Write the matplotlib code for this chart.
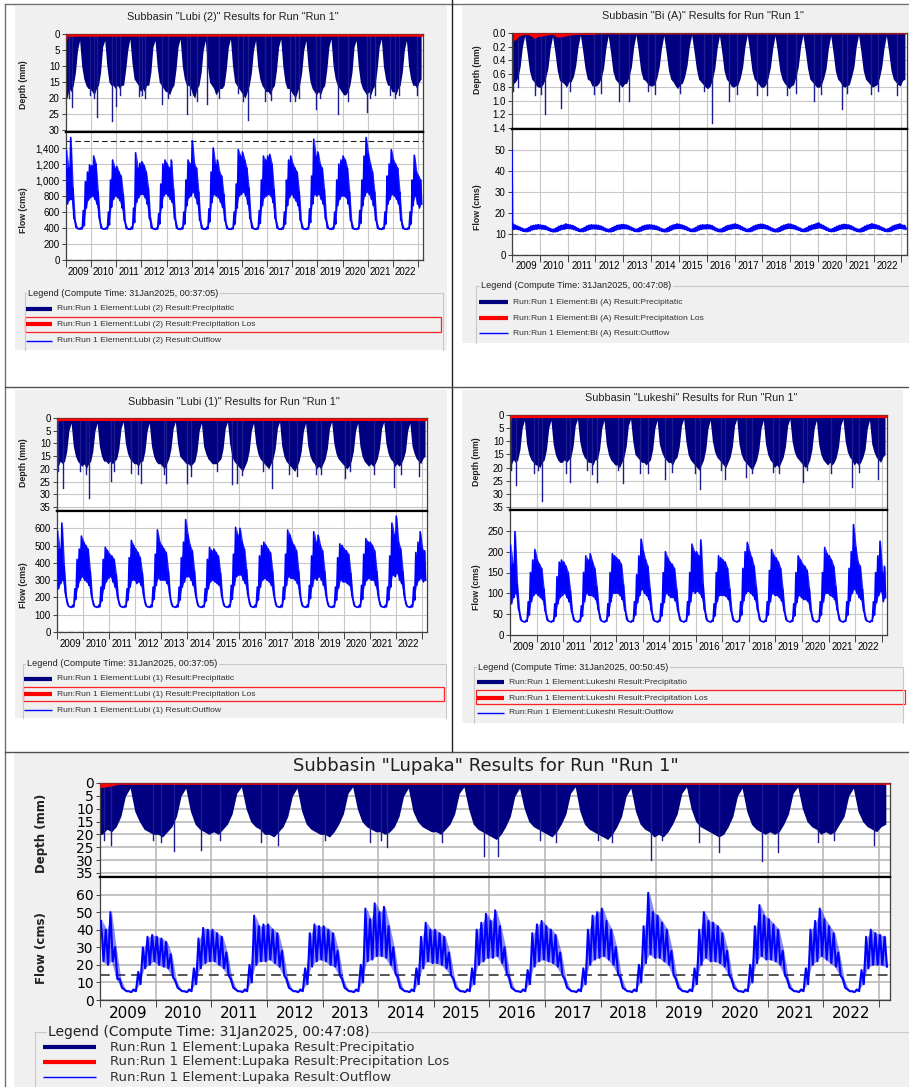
import numpy as np
import matplotlib.pyplot as plt
from matplotlib.lines import Line2D
from matplotlib.patches import Rectangle

plt.rcParams["font.family"] = ["Liberation Sans", "DejaVu Sans"]

START, END = 2009, 2023.2
YEARS = list(range(2009, 2023))

# ---------------- data (monthly values, Jan..Dec, one row per year; last row = early 2023) ----------------
# Lubi (2)
L2_FLOW_HI = [
    [1360, 1150, 1530, 900, 500, 400, 395, 405, 620, 980, 1100, 1190],
    [1180, 1300, 1200, 850, 480, 395, 390, 405, 600, 1000, 1250, 1150],
    [1170, 1100, 1050, 820, 470, 395, 390, 410, 650, 1340, 1150, 1210],
    [1230, 1180, 1100, 900, 520, 400, 390, 400, 580, 950, 1200, 1250],
    [1200, 1150, 1250, 880, 500, 395, 390, 405, 600, 1000, 1250, 1200],
    [1490, 1200, 1150, 850, 480, 395, 390, 410, 640, 1100, 1400, 1200],
    [1250, 1100, 1050, 820, 470, 395, 390, 400, 600, 950, 1380, 1300],
    [1350, 1250, 1150, 900, 500, 400, 390, 400, 620, 1000, 1300, 1250],
    [1300, 1320, 1200, 880, 500, 395, 390, 405, 600, 1000, 1250, 1300],
    [1200, 1150, 1100, 850, 480, 395, 390, 400, 640, 1050, 1510, 1300],
    [1350, 1200, 1150, 880, 500, 400, 390, 405, 600, 1000, 1200, 1250],
    [1300, 1250, 1150, 850, 480, 395, 390, 400, 620, 1000, 1300, 1530],
    [1330, 1200, 1100, 850, 480, 395, 390, 405, 600, 1050, 1200, 1380],
    [1250, 1200, 1150, 850, 480, 395, 390, 400, 600, 1000, 1310, 1100],
    [1050, 1000],
]
L2_FLOW_LO = [
    [700, 750, 760, 520, 410, 390, 385, 390, 430, 650, 750, 780],
    [800, 760, 700, 540, 400, 388, 385, 390, 440, 660, 760, 800],
    [780, 740, 650, 500, 395, 385, 382, 390, 470, 720, 780, 820],
    [820, 780, 700, 520, 400, 388, 382, 388, 450, 650, 800, 830],
    [800, 760, 720, 520, 400, 385, 382, 390, 450, 680, 780, 800],
    [850, 780, 700, 500, 395, 385, 382, 392, 480, 720, 820, 800],
    [780, 720, 660, 500, 395, 385, 382, 390, 450, 650, 800, 820],
    [850, 800, 700, 520, 400, 388, 382, 390, 460, 680, 780, 800],
    [820, 800, 720, 520, 400, 385, 382, 390, 450, 680, 780, 820],
    [780, 740, 680, 500, 395, 385, 382, 390, 470, 700, 820, 800],
    [820, 760, 700, 520, 400, 388, 382, 390, 450, 680, 760, 800],
    [800, 780, 700, 500, 395, 385, 382, 390, 460, 680, 800, 850],
    [820, 760, 680, 500, 395, 385, 382, 390, 450, 700, 760, 820],
    [800, 760, 700, 500, 395, 385, 382, 390, 450, 680, 800, 700],
    [650, 700],
]
L2_PRECIP = [
    [20, 17, 18, 16, 12, 5, 2, 10, 14, 16, 17, 17],
    [18, 19, 17, 16, 12, 4, 2, 10, 15, 16, 16, 17],
    [16, 17, 16, 16, 11, 5, 1.5, 9, 14, 15, 16, 18],
    [17, 18, 16, 16, 12, 4, 2, 10, 15, 16, 17, 18],
    [18, 19, 17, 16, 11, 4, 1.5, 10, 14, 16, 16, 17],
    [19, 20, 17, 16, 12, 5, 2, 10, 15, 16, 17, 19],
    [18, 17, 17, 16, 11, 4, 1.5, 10, 15, 16, 17, 18],
    [19, 20, 18, 16, 12, 5, 2, 10, 14, 16, 17, 18],
    [18, 19, 17, 16, 11, 4, 1.5, 10, 15, 17, 17, 18],
    [19, 20, 18, 16, 12, 5, 2, 10, 15, 17, 18, 19],
    [18, 19, 17, 16, 11, 4, 1.5, 10, 14, 16, 17, 18],
    [19, 19, 18, 16, 12, 4, 2, 10, 15, 17, 18, 19],
    [18, 19, 17, 16, 11, 4, 1.5, 10, 14, 16, 16, 18],
    [18, 19, 17, 16, 12, 5, 2, 10, 14, 16, 16, 17],
    [15, 14],
]
L2_SPIKES = [(2009.23, 22.7), (2009.1, 20), (2010.23, 26), (2010.83, 27.2), (2010.97, 22.5),
             (2012.03, 19), (2012.83, 22), (2013.83, 25), (2014.6, 22), (2016.23, 27),
             (2016.9, 21), (2017.9, 21), (2018.96, 23.5), (2019.83, 25), (2020.96, 24.5),
             (2021.9, 19), (2022.97, 19),
             (2009.95, 19), (2010.1, 20), (2011.15, 19), (2011.9, 19.5), (2012.15, 20),
             (2013.05, 20), (2013.92, 19), (2014.2, 21), (2015.1, 20), (2015.85, 18.5),
             (2016.05, 21), (2017.15, 20.5), (2018.1, 21), (2018.25, 20), (2019.1, 20),
             (2020.2, 21), (2021.1, 20), (2021.3, 19), (2022.1, 20), (2022.25, 19)]
L2_LOSS_T = [2009.0, 2009.03, 2009.05, 2023.2]
L2_LOSS_D = [2.3, 2.0, 0.7, 0.7]

# Bi (A)
BI_FLOW_START = 50
BI_FLOW_HI = [
    [14.5, 14.0, 13.5, 13.0, 12.5, 12.0, 12.2, 12.8, 13.5, 13.8, 14.0, 14.2],
    [14.0, 13.8, 13.6, 13.0, 12.4, 12.0, 12.1, 12.7, 13.4, 13.8, 14.0, 14.5],
    [14.2, 14.0, 13.7, 13.1, 12.5, 12.0, 12.2, 12.8, 13.5, 13.9, 14.1, 14.0],
    [14.0, 13.8, 13.5, 13.0, 12.4, 12.0, 12.1, 12.7, 13.3, 13.8, 14.0, 14.2],
    [14.2, 14.0, 13.6, 13.0, 12.5, 12.0, 12.2, 12.8, 13.4, 13.8, 14.0, 14.1],
    [14.0, 13.8, 13.5, 13.0, 12.4, 12.0, 12.1, 12.7, 13.4, 13.9, 14.2, 14.5],
    [14.3, 14.0, 13.6, 13.1, 12.5, 12.0, 12.2, 12.8, 13.5, 13.9, 14.1, 14.0],
    [14.2, 14.0, 13.7, 13.0, 12.4, 12.0, 12.1, 12.7, 13.4, 13.8, 14.0, 14.3],
    [14.5, 14.2, 13.7, 13.1, 12.5, 12.0, 12.2, 12.8, 13.5, 13.9, 14.2, 14.4],
    [14.3, 14.0, 13.6, 13.0, 12.4, 12.0, 12.1, 12.7, 13.4, 13.9, 14.2, 14.5],
    [14.4, 14.0, 13.6, 13.0, 12.5, 12.0, 12.2, 12.8, 13.5, 13.9, 14.2, 14.6],
    [15.0, 14.3, 13.8, 13.1, 12.5, 12.0, 12.2, 12.8, 13.4, 13.8, 14.1, 14.3],
    [14.2, 14.0, 13.6, 13.0, 12.4, 12.0, 12.1, 12.7, 13.4, 13.9, 14.2, 14.6],
    [14.3, 14.0, 13.6, 13.0, 12.5, 12.0, 12.2, 12.8, 13.5, 13.9, 14.2, 14.5],
    [14.0, 13.8],
]
BI_FLOW_LO = [
    [12.5, 12.6, 12.4, 12.0, 11.6, 11.4, 11.4, 11.7, 12.2, 12.5, 12.6, 12.8],
    [12.6, 12.6, 12.4, 12.0, 11.5, 11.3, 11.3, 11.6, 12.1, 12.5, 12.6, 12.9],
    [12.8, 12.7, 12.4, 12.0, 11.6, 11.4, 11.4, 11.7, 12.2, 12.5, 12.7, 12.7],
    [12.6, 12.5, 12.3, 11.9, 11.5, 11.3, 11.3, 11.6, 12.1, 12.5, 12.6, 12.8],
    [12.8, 12.7, 12.4, 12.0, 11.6, 11.4, 11.4, 11.7, 12.2, 12.5, 12.6, 12.7],
    [12.6, 12.5, 12.3, 11.9, 11.5, 11.3, 11.3, 11.6, 12.1, 12.6, 12.8, 12.9],
    [12.9, 12.7, 12.4, 12.0, 11.6, 11.4, 11.4, 11.7, 12.2, 12.5, 12.7, 12.7],
    [12.8, 12.7, 12.4, 11.9, 11.5, 11.3, 11.3, 11.6, 12.1, 12.5, 12.6, 12.9],
    [13.0, 12.8, 12.4, 12.0, 11.6, 11.4, 11.4, 11.7, 12.2, 12.6, 12.8, 12.9],
    [12.9, 12.7, 12.4, 11.9, 11.5, 11.3, 11.3, 11.6, 12.1, 12.6, 12.8, 13.0],
    [12.9, 12.7, 12.4, 12.0, 11.6, 11.4, 11.4, 11.7, 12.2, 12.6, 12.8, 13.0],
    [13.2, 12.9, 12.5, 12.0, 11.6, 11.4, 11.4, 11.7, 12.1, 12.5, 12.7, 12.8],
    [12.8, 12.7, 12.4, 11.9, 11.5, 11.3, 11.3, 11.6, 12.1, 12.6, 12.8, 13.0],
    [12.9, 12.7, 12.4, 12.0, 11.6, 11.4, 11.4, 11.7, 12.2, 12.6, 12.8, 13.0],
    [12.7, 12.6],
]
BI_PRECIP = [
    [0.75, 0.72, 0.66, 0.50, 0.20, 0.04, 0.28, 0.55, 0.68, 0.72, 0.78, 0.80],
    [0.80, 0.75, 0.66, 0.52, 0.22, 0.05, 0.28, 0.55, 0.70, 0.72, 0.75, 0.80],
    [0.72, 0.72, 0.64, 0.48, 0.20, 0.03, 0.26, 0.52, 0.68, 0.70, 0.78, 0.78],
    [0.78, 0.74, 0.66, 0.52, 0.22, 0.04, 0.28, 0.56, 0.68, 0.72, 0.76, 0.80],
    [0.75, 0.74, 0.64, 0.50, 0.20, 0.03, 0.27, 0.55, 0.68, 0.70, 0.75, 0.78],
    [0.78, 0.76, 0.66, 0.50, 0.22, 0.04, 0.28, 0.55, 0.68, 0.72, 0.78, 0.82],
    [0.76, 0.74, 0.64, 0.48, 0.20, 0.03, 0.26, 0.52, 0.68, 0.72, 0.76, 0.80],
    [0.82, 0.78, 0.68, 0.52, 0.22, 0.04, 0.28, 0.56, 0.68, 0.72, 0.78, 0.80],
    [0.78, 0.76, 0.66, 0.50, 0.20, 0.03, 0.27, 0.55, 0.68, 0.72, 0.76, 0.80],
    [0.80, 0.76, 0.66, 0.50, 0.22, 0.04, 0.28, 0.55, 0.68, 0.74, 0.78, 0.82],
    [0.78, 0.76, 0.64, 0.50, 0.20, 0.03, 0.26, 0.52, 0.68, 0.72, 0.76, 0.80],
    [0.80, 0.76, 0.66, 0.52, 0.22, 0.04, 0.28, 0.56, 0.68, 0.72, 0.78, 0.80],
    [0.78, 0.76, 0.64, 0.50, 0.20, 0.03, 0.27, 0.55, 0.68, 0.72, 0.76, 0.80],
    [0.78, 0.76, 0.66, 0.50, 0.22, 0.04, 0.28, 0.55, 0.68, 0.72, 0.76, 0.78],
    [0.70, 0.68],
]
BI_SPIKES = [(2009.2, 0.8), (2009.83, 0.92), (2010.19, 1.2), (2010.76, 1.1), (2012.85, 1.0),
             (2013.2, 1.0), (2016.2, 1.33), (2016.8, 1.0), (2017.8, 0.92), (2018.9, 0.92),
             (2019.85, 1.0), (2020.87, 1.12), (2022.85, 0.92),
             (2009.05, 0.85), (2010.05, 0.9), (2011.1, 0.85), (2011.95, 0.9), (2012.2, 0.88),
             (2013.9, 0.85), (2014.15, 0.9), (2015.05, 0.88), (2015.9, 0.85), (2017.1, 0.9),
             (2018.15, 0.92), (2019.2, 0.88), (2020.1, 0.9), (2021.05, 0.88), (2021.9, 0.9),
             (2022.15, 0.86)]
BI_LOSS = [0.11, 0.10, 0.06, 0.04, 0.03, 0.02, 0.02, 0.03, 0.05, 0.08, 0.06, 0.05,
           0.05, 0.04, 0.03, 0.03, 0.02, 0.02, 0.04, 0.06, 0.06, 0.05, 0.05, 0.04,
           0.03, 0.03, 0.025, 0.02, 0.02, 0.02, 0.02, 0.02, 0.02, 0.02, 0.02, 0.02]
BI_LOSS_REST = 0.012

# Lubi (1)
L1_FLOW_HI = [
    [580, 480, 630, 380, 200, 150, 145, 155, 250, 420, 480, 555],
    [520, 500, 480, 350, 190, 148, 145, 155, 260, 420, 490, 470],
    [450, 440, 420, 330, 185, 148, 145, 152, 250, 430, 530, 500],
    [480, 460, 430, 340, 190, 148, 145, 155, 260, 450, 590, 520],
    [500, 480, 460, 350, 190, 148, 145, 155, 260, 430, 520, 650],
    [560, 500, 470, 350, 190, 148, 145, 152, 250, 420, 490, 470],
    [480, 460, 440, 340, 185, 148, 145, 155, 270, 450, 605, 560],
    [600, 520, 480, 360, 195, 148, 145, 155, 260, 440, 500, 520],
    [500, 480, 460, 350, 190, 148, 145, 155, 260, 450, 590, 560],
    [520, 500, 470, 350, 190, 148, 145, 155, 270, 440, 580, 520],
    [560, 500, 470, 350, 190, 148, 145, 152, 260, 430, 510, 500],
    [480, 470, 450, 340, 190, 148, 145, 155, 270, 450, 540, 520],
    [520, 500, 470, 350, 190, 148, 145, 155, 260, 440, 630, 560],
    [670, 520, 480, 350, 190, 148, 145, 155, 260, 460, 520, 580],
    [480, 470],
]
L1_FLOW_LO = [
    [250, 280, 300, 230, 165, 146, 142, 146, 190, 260, 300, 320],
    [300, 290, 270, 220, 160, 146, 142, 146, 180, 250, 290, 310],
    [320, 290, 260, 210, 158, 146, 142, 146, 185, 260, 300, 300],
    [280, 290, 270, 220, 160, 146, 142, 146, 190, 270, 310, 300],
    [300, 300, 280, 230, 162, 146, 142, 146, 185, 260, 290, 320],
    [320, 300, 270, 220, 160, 146, 142, 146, 180, 250, 290, 300],
    [290, 280, 270, 215, 158, 146, 142, 146, 190, 270, 320, 330],
    [330, 300, 280, 225, 162, 146, 142, 146, 185, 260, 300, 310],
    [300, 290, 270, 220, 160, 146, 142, 146, 190, 270, 320, 310],
    [310, 300, 280, 225, 160, 146, 142, 146, 195, 265, 310, 300],
    [320, 300, 270, 220, 160, 146, 142, 146, 185, 255, 300, 290],
    [290, 280, 270, 215, 158, 146, 142, 146, 190, 270, 300, 310],
    [300, 300, 270, 220, 160, 146, 142, 146, 185, 260, 330, 320],
    [340, 300, 280, 220, 160, 146, 142, 146, 185, 270, 300, 310],
    [290, 300],
]
L1_PRECIP = [
    [19, 17, 18, 17, 13, 5, 2, 11, 15, 17, 18, 19],
    [18, 20, 18, 17, 13, 5, 2, 11, 15, 17, 17, 18],
    [17, 18, 17, 16, 12, 4, 1.5, 10, 14, 16, 17, 18],
    [18, 19, 17, 17, 13, 5, 2, 11, 15, 17, 18, 18],
    [19, 20, 18, 16, 12, 4, 1.5, 10, 15, 16, 17, 18],
    [18, 19, 18, 17, 13, 5, 2, 11, 14, 16, 17, 18],
    [18, 18, 17, 16, 12, 4, 1.5, 10, 15, 17, 18, 19],
    [20, 21, 19, 17, 13, 5, 2, 10, 14, 16, 17, 18],
    [19, 20, 18, 16, 12, 4, 1.5, 11, 15, 17, 18, 19],
    [20, 21, 19, 17, 13, 5, 2, 11, 15, 17, 18, 20],
    [19, 20, 18, 16, 12, 4, 1.5, 10, 14, 16, 17, 18],
    [19, 20, 19, 17, 13, 5, 2, 11, 15, 17, 18, 19],
    [18, 19, 18, 16, 12, 4, 1.5, 10, 14, 16, 17, 19],
    [18, 19, 18, 16, 13, 5, 2, 11, 14, 16, 17, 18],
    [16, 15],
]
L1_SPIKES = [(2009.23, 27.4), (2010.23, 31.5), (2011.06, 24.8), (2012.24, 25.7), (2013.2, 25.5),
             (2013.97, 25.5), (2015.7, 26), (2015.92, 25.5), (2017.24, 27.4), (2018.2, 22.8),
             (2020.06, 23.5), (2021.92, 27), (2022.88, 22.8),
             (2009.05, 21), (2009.9, 21), (2010.1, 22), (2011.2, 21), (2011.85, 21.5),
             (2012.1, 22), (2013.1, 22), (2014.15, 23), (2015.15, 21), (2016.1, 22.5),
             (2016.9, 21), (2017.9, 22), (2018.95, 22), (2019.15, 22), (2020.25, 21),
             (2021.15, 22), (2022.2, 22)]
L1_LOSS_T = [2009.0, 2009.03, 2009.05, 2023.2]
L1_LOSS_D = [1.8, 1.5, 1.0, 1.0]

# Lukeshi
LK_FLOW_HI = [
    [215, 170, 248, 120, 55, 34, 32, 35, 80, 150, 180, 205],
    [180, 170, 160, 110, 52, 34, 32, 35, 75, 140, 175, 180],
    [175, 165, 150, 105, 50, 34, 32, 35, 70, 150, 190, 180],
    [195, 175, 160, 115, 55, 34, 32, 35, 75, 150, 195, 190],
    [185, 180, 170, 120, 55, 34, 32, 35, 80, 145, 190, 230],
    [200, 180, 165, 110, 52, 34, 32, 35, 75, 150, 200, 185],
    [175, 170, 160, 110, 52, 34, 32, 35, 80, 150, 218, 200],
    [200, 190, 228, 120, 55, 34, 32, 35, 75, 150, 190, 185],
    [180, 175, 160, 110, 52, 34, 32, 35, 80, 160, 200, 222],
    [200, 185, 165, 115, 55, 34, 32, 35, 80, 155, 205, 190],
    [185, 175, 160, 110, 52, 34, 32, 35, 75, 150, 190, 180],
    [170, 165, 155, 110, 52, 34, 32, 35, 80, 150, 210, 195],
    [190, 180, 165, 115, 55, 34, 32, 35, 80, 160, 200, 265],
    [210, 175, 165, 110, 52, 34, 32, 35, 80, 150, 190, 225],
    [150, 165],
]
LK_FLOW_LO = [
    [75, 90, 100, 65, 38, 33, 31, 33, 48, 80, 95, 100],
    [95, 90, 85, 60, 37, 33, 31, 33, 45, 75, 90, 95],
    [100, 90, 80, 58, 37, 33, 31, 33, 45, 80, 100, 95],
    [95, 92, 85, 62, 38, 33, 31, 33, 46, 80, 100, 100],
    [100, 95, 85, 62, 38, 33, 31, 33, 48, 78, 95, 110],
    [100, 95, 85, 60, 37, 33, 31, 33, 46, 78, 100, 95],
    [90, 90, 82, 60, 37, 33, 31, 33, 48, 80, 105, 100],
    [105, 100, 90, 62, 38, 33, 31, 33, 46, 80, 95, 95],
    [95, 92, 85, 60, 37, 33, 31, 33, 48, 82, 100, 105],
    [100, 95, 85, 62, 38, 33, 31, 33, 48, 80, 100, 95],
    [95, 90, 82, 60, 37, 33, 31, 33, 46, 78, 95, 90],
    [85, 85, 80, 60, 37, 33, 31, 33, 48, 80, 100, 100],
    [95, 92, 85, 62, 38, 33, 31, 33, 48, 82, 100, 110],
    [100, 90, 85, 60, 37, 33, 31, 33, 48, 78, 95, 105],
    [80, 90],
]
LK_PRECIP = [
    [19, 17, 18, 17, 13, 5, 2, 11, 15, 17, 18, 19],
    [19, 20, 18, 17, 13, 5, 2, 11, 15, 17, 18, 18],
    [17, 18, 17, 16, 12, 4, 1.5, 10, 14, 16, 17, 18],
    [18, 19, 17, 17, 13, 5, 2, 11, 15, 17, 18, 19],
    [19, 20, 18, 16, 12, 4, 1.5, 10, 15, 16, 17, 18],
    [18, 19, 18, 17, 13, 5, 2, 11, 14, 16, 17, 18],
    [18, 19, 17, 16, 12, 4, 1.5, 10, 15, 17, 18, 19],
    [20, 21, 19, 17, 13, 5, 2, 10, 14, 16, 17, 18],
    [19, 20, 18, 16, 12, 4, 1.5, 11, 15, 17, 18, 19],
    [20, 21, 19, 17, 13, 5, 2, 11, 15, 17, 18, 20],
    [19, 20, 18, 16, 12, 4, 1.5, 10, 14, 16, 17, 18],
    [19, 20, 19, 17, 13, 5, 2, 11, 15, 17, 18, 19],
    [18, 19, 18, 16, 12, 4, 1.5, 10, 14, 16, 17, 19],
    [18, 19, 18, 16, 13, 5, 2, 11, 14, 16, 17, 18],
    [16, 15],
]
LK_SPIKES = [(2009.23, 26.7), (2010.22, 32.8), (2011.26, 25.4), (2012.26, 25.4), (2013.24, 25.8),
             (2014.85, 24.2), (2016.17, 28.2), (2017.08, 24.2), (2017.9, 23.5), (2020.03, 25.4),
             (2021.9, 27.3), (2022.85, 24.2),
             (2009.05, 21), (2009.9, 22), (2010.05, 21), (2011.1, 22), (2011.9, 21),
             (2012.1, 22.5), (2013.05, 21), (2013.9, 22), (2014.2, 22), (2015.1, 21.5),
             (2015.95, 22), (2016.95, 21), (2018.1, 22), (2018.9, 21.5), (2019.15, 22),
             (2020.2, 21), (2021.1, 22), (2022.15, 21.5)]
LK_LOSS_T = [2009.0, 2009.04, 2009.06, 2023.2]
LK_LOSS_D = [2.0, 1.8, 1.0, 1.0]

# Lupaka
LP_FLOW_HI = [
    [45, 40, 50, 30, 12, 6, 5, 6, 16, 30, 36, 37],
    [36, 35, 33, 26, 11, 6, 5, 6, 18, 35, 41, 40],
    [40, 38, 36, 27, 12, 6, 5, 6, 20, 48, 42, 43],
    [43, 40, 38, 28, 12, 6, 5, 6, 18, 38, 43, 42],
    [42, 40, 38, 28, 12, 6, 5, 6, 20, 52, 46, 55],
    [50, 53, 42, 30, 13, 6, 5, 6, 18, 36, 44, 40],
    [40, 38, 36, 27, 12, 6, 5, 6, 18, 40, 44, 49],
    [45, 51, 42, 30, 13, 6, 5, 6, 17, 38, 43, 45],
    [42, 40, 37, 27, 12, 6, 5, 6, 18, 40, 48, 50],
    [52, 45, 40, 30, 13, 6, 5, 6, 20, 42, 61, 50],
    [48, 44, 40, 28, 12, 6, 5, 6, 18, 40, 50, 45],
    [44, 42, 38, 28, 12, 6, 5, 6, 20, 42, 54, 48],
    [46, 43, 40, 28, 12, 6, 5, 6, 18, 40, 45, 52],
    [46, 42, 38, 27, 12, 6, 5, 6, 17, 36, 40, 38],
    [37, 36],
]
LP_FLOW_LO = [
    [22, 20, 22, 12, 7, 5, 4.5, 5, 9, 18, 20, 22],
    [20, 19, 18, 13, 7, 5, 4.5, 5, 9, 18, 21, 22],
    [22, 20, 18, 14, 7, 5, 4.5, 5, 10, 20, 22, 22],
    [23, 21, 19, 14, 7, 5, 4.5, 5, 9, 19, 22, 23],
    [22, 20, 19, 14, 7, 5, 4.5, 5, 10, 22, 23, 25],
    [25, 24, 20, 15, 7, 5, 4.5, 5, 9, 18, 22, 21],
    [21, 20, 18, 14, 7, 5, 4.5, 5, 9, 20, 22, 24],
    [24, 25, 21, 15, 7, 5, 4.5, 5, 9, 19, 22, 23],
    [22, 21, 19, 14, 7, 5, 4.5, 5, 9, 20, 23, 24],
    [25, 23, 20, 15, 7, 5, 4.5, 5, 10, 21, 26, 24],
    [24, 22, 20, 14, 7, 5, 4.5, 5, 9, 20, 24, 22],
    [22, 21, 19, 14, 7, 5, 4.5, 5, 10, 21, 25, 23],
    [23, 22, 20, 14, 7, 5, 4.5, 5, 9, 20, 22, 25],
    [23, 21, 19, 14, 7, 5, 4.5, 5, 9, 18, 20, 20],
    [20, 19],
]
LP_PRECIP = [
    [20, 18, 19, 17, 13, 5, 2, 11, 15, 18, 19, 20],
    [20, 21, 19, 17, 13, 5, 2, 11, 16, 18, 19, 20],
    [19, 20, 18, 16, 12, 4, 1.5, 10, 15, 17, 18, 20],
    [20, 21, 19, 17, 13, 5, 2, 11, 16, 18, 19, 20],
    [20, 21, 19, 16, 12, 4, 1.5, 10, 15, 17, 18, 19],
    [19, 20, 19, 17, 13, 5, 2, 11, 15, 17, 18, 19],
    [19, 20, 18, 16, 12, 4, 1.5, 10, 16, 18, 19, 20],
    [21, 22, 20, 17, 13, 5, 2, 10, 15, 17, 18, 19],
    [20, 21, 19, 16, 12, 4, 1.5, 11, 16, 18, 19, 20],
    [21, 22, 20, 17, 13, 5, 2, 11, 16, 18, 19, 21],
    [20, 21, 19, 16, 12, 4, 1.5, 10, 15, 17, 18, 19],
    [20, 21, 20, 17, 13, 5, 2, 11, 16, 18, 19, 20],
    [19, 20, 19, 16, 12, 4, 1.5, 10, 15, 17, 18, 20],
    [19, 20, 19, 16, 13, 5, 2, 11, 15, 17, 18, 19],
    [17, 16],
]
LP_SPIKES = [(2009.2, 24), (2010.33, 26.5), (2010.82, 26), (2014.16, 25), (2015.9, 28.5),
             (2016.15, 28.5), (2018.9, 30), (2019.77, 23), (2020.13, 27), (2020.9, 30.5),
             (2021.18, 27), (2022.92, 24),
             (2009.08, 22), (2009.95, 22), (2010.1, 23), (2011.15, 22), (2011.9, 23),
             (2012.2, 24), (2013.05, 22), (2013.85, 23), (2014.05, 22), (2015.15, 23),
             (2016.9, 22), (2017.2, 23), (2017.95, 22), (2018.2, 23), (2019.1, 22),
             (2021.9, 23), (2022.2, 22)]
LP_LOSS_T = [2009.0, 2009.1, 2009.25, 2009.3, 2023.2]
LP_LOSS_D = [1.8, 1.5, 1.0, 0.5, 0.5]

# ---------------- helpers ----------------
W, H = 909, 1087
NAVY, RED, BLUE = "#000080", "#ff0000", "#0000ff"
PANEL_BG = "#f0f0f0"

fig = plt.figure(figsize=(W / 100, H / 100), dpi=100)


def fx(x):
    return x / W


def fy(y):
    return 1 - y / H


def box(x0, y0, x1, y1):
    return [x0 / W, 1 - y1 / H, (x1 - x0) / W, (y1 - y0) / H]


def fig_line(x0, y0, x1, y1, **kw):
    fig.add_artist(Line2D([fx(x0), fx(x1)], [fy(y0), fy(y1)], transform=fig.transFigure, **kw))


def fig_rect(x0, y0, x1, y1, **kw):
    fig.add_artist(Rectangle((fx(x0), fy(y1)), (x1 - x0) / W, (y1 - y0) / H,
                             transform=fig.transFigure, **kw))


def month_points(rows, offset):
    xs, vs = [], []
    for i, row in enumerate(rows):
        for m, v in enumerate(row):
            xs.append(START + i + (m + offset) / 12)
            vs.append(v)
    return xs, vs


def zigzag(hi_rows, lo_rows):
    xh, vh = month_points(hi_rows, 0.25)
    xl, vl = month_points(lo_rows, 0.75)
    xs = [x for pair in zip(xh, xl) for x in pair]
    vs = [v for pair in zip(vh, vl) for v in pair]
    return xs, vs


def draw_panel(p):
    fam, fs = p["family"], p["fs"]
    fig_rect(*p["bg"], facecolor=PANEL_BG, edgecolor="none", zorder=-1)
    fig.text(fx(p["title_xy"][0]), fy(p["title_xy"][1]),
             f'Subbasin "{p["name"]}" Results for Run "Run 1"',
             ha="center", va="center", fontsize=fs["title"], family=fam, color="#202020")

    x0, x1 = p["ax_x"]
    yt, ym, yb = p["ax_y"]
    axd = fig.add_axes(box(x0, yt, x1, ym))
    axf = fig.add_axes(box(x0, ym, x1, yb))

    for ax in (axd, axf):
        ax.set_facecolor("white")
        ax.set_xlim(START, END)
        ax.set_xticks([])
        ax.set_xticks(range(2009, 2024), minor=True)
        ax.xaxis.grid(True, which="minor", color=p["grid"], lw=p["grid_lw"])
        ax.yaxis.grid(True, which="major", color=p["grid"], lw=p["grid_lw"])
        ax.set_axisbelow(True)
        for sp in ax.spines.values():
            sp.set_color("#404040")
            sp.set_linewidth(0.9)
        ax.tick_params(axis="y", length=3, width=0.7, color="#404040", pad=1.5)

    # precipitation (depth, hanging from the top)
    xs, d = month_points(p["precip"], 0.5)
    xs = [START] + xs
    d = [d[0]] + d
    axd.fill_between(xs, 0, d, color=NAVY, lw=0, zorder=2)
    for t, v in p["spikes"]:
        axd.plot([t, t], [0, v], color="#1c1c90", lw=1.0, zorder=2)
    axd.fill_between(p["loss_t"], 0, p["loss_d"], color=RED, lw=0, zorder=3)
    axd.set_ylim(p["dlim"], 0)
    axd.set_yticks(p["dticks"], labels=[p["dfmt"].format(v) for v in p["dticks"]],
                   fontsize=fs["tick"], fontfamily=fam)
    axd.tick_params(axis="x", which="both", length=0)
    axd.spines["bottom"].set_color("black")
    axd.spines["bottom"].set_linewidth(1.6)

    # outflow: band between monthly low and high, with the zig-zag trace on top
    for val, col, lw in p["dashes"]:
        axf.axhline(val, color=col, lw=lw, ls=(0, (5, 3)), zorder=2)
    xm, hi = month_points(p["flow_hi"], 0.5)
    _, lo = month_points(p["flow_lo"], 0.5)
    axf.fill_between(xm, lo, hi, color=BLUE, alpha=p["fill_alpha"], lw=0, zorder=3)
    if p.get("flow_start") is not None:
        axf.plot([START, START + 0.02], [p["flow_start"], p["flow_hi"][0][0]],
                 color=BLUE, lw=1.2, zorder=3)
    xz, vz = zigzag(p["flow_hi"], p["flow_lo"])
    axf.plot(xz, vz, color=BLUE, lw=p["flow_lw"], zorder=4)
    axf.set_ylim(0, p["flim"])
    axf.set_yticks(p["fticks"], labels=[f"{v:,}" for v in p["fticks"]],
                   fontsize=fs["tick"], fontfamily=fam)
    axf.set_xticks([y + 0.5 for y in YEARS], labels=[str(y) for y in YEARS],
                   fontsize=fs["year"], fontfamily=fam)
    axf.tick_params(axis="x", which="major", length=0, pad=p["xpad"])
    axf.tick_params(axis="x", which="minor", length=5, width=0.7, color="#404040", direction="out")
    axf.spines["top"].set_color("black")
    axf.spines["top"].set_linewidth(1.6)

    # axis titles
    for label, (lx, ly) in (("Depth (mm)", p["dlab"]), ("Flow (cms)", p["flab"])):
        fig.text(fx(lx), fy(ly), label, rotation=90, ha="center", va="center",
                 fontsize=fs["ylab"], family=fam, fontweight="bold", color="#202020")

    # legend block
    L = p["legend"]
    gx0, gy, gx1, gy1 = L["group"]
    for a, b, c, e in ((gx0, gy, gx1, gy), (gx0, gy, gx0, gy1), (gx1, gy, gx1, gy1)):
        fig_line(a, b, c, e, color="#c8c8c8", lw=0.8)
    fig.text(fx(L["title_x"]), fy(gy), f"Legend (Compute Time: {L['time']})",
             ha="left", va="center", fontsize=fs["legtitle"], family=fam, color="#202020",
             bbox=dict(facecolor=PANEL_BG, edgecolor="none", pad=1.0))
    sx0, sx1 = L["sample_x"]
    entries = ((p["series"][0], NAVY, 3.0), (p["series"][1], RED, 3.0), (p["series"][2], BLUE, 1.0))
    for (suffix, col, lw), yy in zip(entries, L["rows"]):
        fig_line(sx0, yy, sx1, yy, color=col, lw=lw, solid_capstyle="butt")
        fig.text(fx(L["text_x"]), fy(yy), f"Run:Run 1 Element:{p['name']} Result:{suffix}",
                 ha="left", va="center", fontsize=fs["leg"], family=fam, color="#303030")
    if L.get("redbox"):
        fig_rect(*L["redbox"], facecolor="none", edgecolor="#ff2020", lw=0.9)


SMALL_FS = dict(title=7.8, tick=7, year=7, ylab=6.3, legtitle=6.6, leg=6.1)
LP_FS = dict(title=13, tick=10, year=11, ylab=8.5, legtitle=10, leg=9.5)
SER_A = ("Precipitatic", "Precipitation Los", "Outflow")
SER_B = ("Precipitatio", "Precipitation Los", "Outflow")
BROWN = "#a05050"

PANELS = [
    dict(name="Lubi (2)", family="Liberation Sans", fs=SMALL_FS, bg=(15, 6, 447, 350),
         title_xy=(233, 17), ax_x=(66, 423), ax_y=(34, 132, 260),
         precip=L2_PRECIP, spikes=L2_SPIKES, loss_t=L2_LOSS_T, loss_d=L2_LOSS_D,
         dlim=30.6, dticks=[0, 5, 10, 15, 20, 25, 30], dfmt="{:d}",
         flow_hi=L2_FLOW_HI, flow_lo=L2_FLOW_LO, flim=1600, fticks=list(range(0, 1401, 200)),
         dashes=[(1490, "#202020", 0.8), (0, BROWN, 0.9)], xpad=5, flow_lw=1.2, fill_alpha=0.85,
         dlab=(23, 85), flab=(23, 210), grid="#c8c8c8", grid_lw=0.8, series=SER_A,
         legend=dict(group=(25, 293, 443, 350), title_x=28, time="31Jan2025, 00:37:05",
                     rows=(309, 324, 341), sample_x=(26, 52), text_x=57,
                     redbox=(25, 317, 441, 332))),
    dict(name="Bi (A)", family="Liberation Sans", fs=SMALL_FS, bg=(462, 6, 909, 343),
         title_xy=(703, 16), ax_x=(512, 907), ax_y=(33, 129, 255),
         precip=BI_PRECIP, spikes=BI_SPIKES,
         loss_t=month_points([BI_LOSS], 0.5)[0] + [2012.0, 2023.2],
         loss_d=BI_LOSS + [BI_LOSS_REST, BI_LOSS_REST],
         dlim=1.415, dticks=[0, 0.2, 0.4, 0.6, 0.8, 1.0, 1.2, 1.4], dfmt="{:.1f}",
         flow_hi=BI_FLOW_HI, flow_lo=BI_FLOW_LO, flow_start=BI_FLOW_START,
         flim=60, fticks=[0, 10, 20, 30, 40, 50],
         dashes=[(10, "#909090", 0.8), (0, BROWN, 0.9)], xpad=4, flow_lw=2.0, fill_alpha=0.9,
         dlab=(478, 70), flab=(478, 207), grid="#c8c8c8", grid_lw=0.8, series=SER_A,
         legend=dict(group=(476, 286, 909, 343), title_x=481, time="31Jan2025, 00:47:08",
                     rows=(302, 318, 333), sample_x=(479, 508), text_x=513, redbox=None)),
    dict(name="Lubi (1)", family="Liberation Sans", fs=SMALL_FS, bg=(15, 390, 447, 718),
         title_xy=(234, 402), ax_x=(57, 427), ax_y=(418, 511, 632),
         precip=L1_PRECIP, spikes=L1_SPIKES, loss_t=L1_LOSS_T, loss_d=L1_LOSS_D,
         dlim=36.6, dticks=[0, 5, 10, 15, 20, 25, 30, 35], dfmt="{:d}",
         flow_hi=L1_FLOW_HI, flow_lo=L1_FLOW_LO, flim=700, fticks=list(range(0, 601, 100)),
         dashes=[(0, BROWN, 0.9)], xpad=5, flow_lw=1.2, fill_alpha=0.85,
         dlab=(23, 463), flab=(23, 585), grid="#c8c8c8", grid_lw=0.8, series=SER_A,
         legend=dict(group=(23, 664, 446, 718), title_x=27, time="31Jan2025, 00:37:05",
                     rows=(679, 694, 710), sample_x=(24, 52), text_x=57,
                     redbox=(23, 687, 444, 701))),
    dict(name="Lukeshi", family="Liberation Sans", fs=SMALL_FS, bg=(462, 390, 903, 723),
         title_xy=(691, 398), ax_x=(510, 887), ax_y=(415, 510, 635),
         precip=LK_PRECIP, spikes=LK_SPIKES, loss_t=LK_LOSS_T, loss_d=LK_LOSS_D,
         dlim=36.1, dticks=[0, 5, 10, 15, 20, 25, 30, 35], dfmt="{:d}",
         flow_hi=LK_FLOW_HI, flow_lo=LK_FLOW_LO, flim=300, fticks=[0, 50, 100, 150, 200, 250],
         dashes=[], xpad=5, flow_lw=1.2, fill_alpha=0.85,
         dlab=(476, 462), flab=(476, 587), grid="#c8c8c8", grid_lw=0.8, series=SER_B,
         legend=dict(group=(474, 667, 903, 723), title_x=478, time="31Jan2025, 00:50:45",
                     rows=(682, 698, 713), sample_x=(477, 504), text_x=509,
                     redbox=(476, 690, 905, 704))),
    dict(name="Lupaka", family="DejaVu Sans", fs=LP_FS, bg=(14, 753, 909, 1087),
         title_xy=(486, 766), ax_x=(100, 890), ax_y=(783, 877, 1000),
         precip=LP_PRECIP, spikes=LP_SPIKES, loss_t=LP_LOSS_T, loss_d=LP_LOSS_D,
         dlim=36.6, dticks=[0, 5, 10, 15, 20, 25, 30, 35], dfmt="{:d}",
         flow_hi=LP_FLOW_HI, flow_lo=LP_FLOW_LO, flim=70, fticks=[0, 10, 20, 30, 40, 50, 60],
         dashes=[(14, "#555555", 1.4), (0, "#e0a0a0", 1.0)], xpad=4, flow_lw=1.5, fill_alpha=0.45,
         dlab=(41, 833), flab=(41, 948), grid="#b4b4b4", grid_lw=1.1, series=SER_B,
         legend=dict(group=(35, 1032, 909, 1087), title_x=48, time="31Jan2025, 00:47:08",
                     rows=(1047, 1062, 1077), sample_x=(43, 96), text_x=110, redbox=None)),
]

for panel in PANELS:
    draw_panel(panel)

# table borders of the document
fig_line(5, 4, 909, 4, color="#707070", lw=1.0)
fig_line(5, 4, 5, 1087, color="#707070", lw=1.0)
fig_line(452, 0, 452, 752, color="#202020", lw=1.0)
fig_line(5, 387, 909, 387, color="#505050", lw=1.0)
fig_line(5, 752, 909, 752, color="#505050", lw=1.0)

fig.savefig("out.png", dpi=100, facecolor="white")
